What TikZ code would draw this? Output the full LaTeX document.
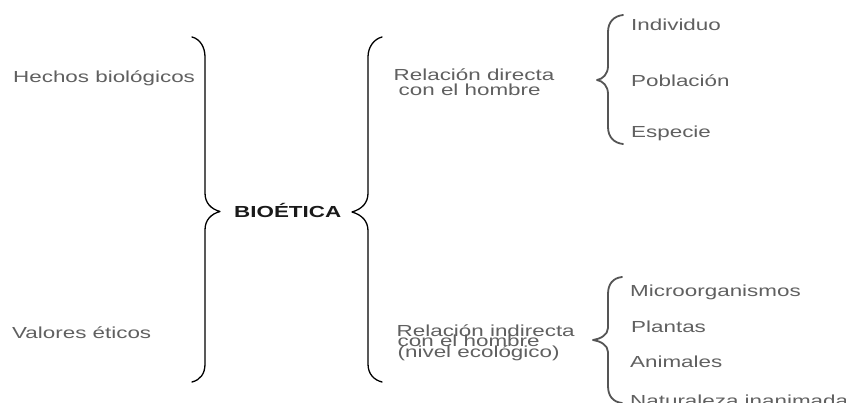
\documentclass[tikz,border=0pt]{standalone}
\usepackage{fontspec}
\setmainfont{Liberation Sans}[FakeStretch=1.4]
\begin{document}
\begin{tikzpicture}[x=1pt,y=-1pt,
  lbl/.style={inner sep=0pt,anchor=base west,text=txtgrey,font=\fontsize{16}{15}\selectfont},
  ttl/.style={inner sep=0pt,anchor=base west,text=black!90,font=\fontsize{16}{15}\selectfont\bfseries},
  bigbrace/.style={draw=black,line width=1.3pt,line cap=round,line join=round},
  smallbrace/.style={draw=bracegrey,line width=1.8pt,line cap=round,line join=round}]
\definecolor{txtgrey}{HTML}{606060}
\definecolor{bracegrey}{HTML}{555555}
\fill[white] (0,0) rectangle (846,403);
\useasboundingbox (0,0) rectangle (846,403);

% left column
\node[lbl] (hechos) at (13,83) {Hechos biológicos};
\node[lbl] (valores) at (12,338) {Valores éticos};

% big brace pointing right
\draw[bigbrace] (192,37) .. controls (200,39) and (205,47) .. (205,57)
  -- (205,193) .. controls (205,203) and (211,209) .. (220,211.5)
  .. controls (211,214) and (205,220) .. (205,230)
  -- (205,364) .. controls (205,374) and (200,380) .. (192,382);

\node[ttl] (bio) at (234,218) {BIOÉTICA};

% big brace pointing left
\draw[bigbrace] (382,37) .. controls (374,39) and (368,47) .. (368,57)
  -- (368,193) .. controls (368,203) and (362,209) .. (352,212)
  .. controls (362,215) and (368,221) .. (368,231)
  -- (368,364) .. controls (368,374) and (374,380) .. (382,382);

% middle column
\node[lbl] (rd1) at (393.5,80.5) {Relación directa};
\node[lbl] (rd2) at (398.5,95.5) {con el hombre};
\node[lbl] (ri1) at (396.5,336) {Relación indirecta};
\node[lbl] (ri2) at (397.5,346.5) {con el hombre};
\node[lbl] (ri3) at (397.5,357) {(nivel ecológico)};

% small upper brace
\draw[smallbrace] (623,15) .. controls (614,16) and (608,22) .. (608,32)
  -- (608,66) .. controls (608,74) and (603,79) .. (597,80)
  .. controls (603,81) and (608,86) .. (608,94)
  -- (608,127) .. controls (608,137) and (614,143) .. (623,144);

% small lower brace
\draw[smallbrace] (622,277) .. controls (613,278) and (608,284) .. (608,294)
  -- (608,328) .. controls (608,335) and (600,339) .. (593,340)
  .. controls (600,341) and (608,345) .. (608,352)
  -- (608,386) .. controls (608,396) and (613,402) .. (622,403);

% right column
\node[lbl] (ind) at (631,30.5) {Individuo};
\node[lbl] (pob) at (631,86.5) {Población};
\node[lbl] (esp) at (631,137.5) {Especie};
\node[lbl] (mic) at (630,297) {Microorganismos};
\node[lbl] (pla) at (631,332) {Plantas};
\node[lbl] (ani) at (630,367) {Animales};
\node[lbl] (nat) at (630,406) {Naturaleza inanimada};
\end{tikzpicture}
\end{document}
